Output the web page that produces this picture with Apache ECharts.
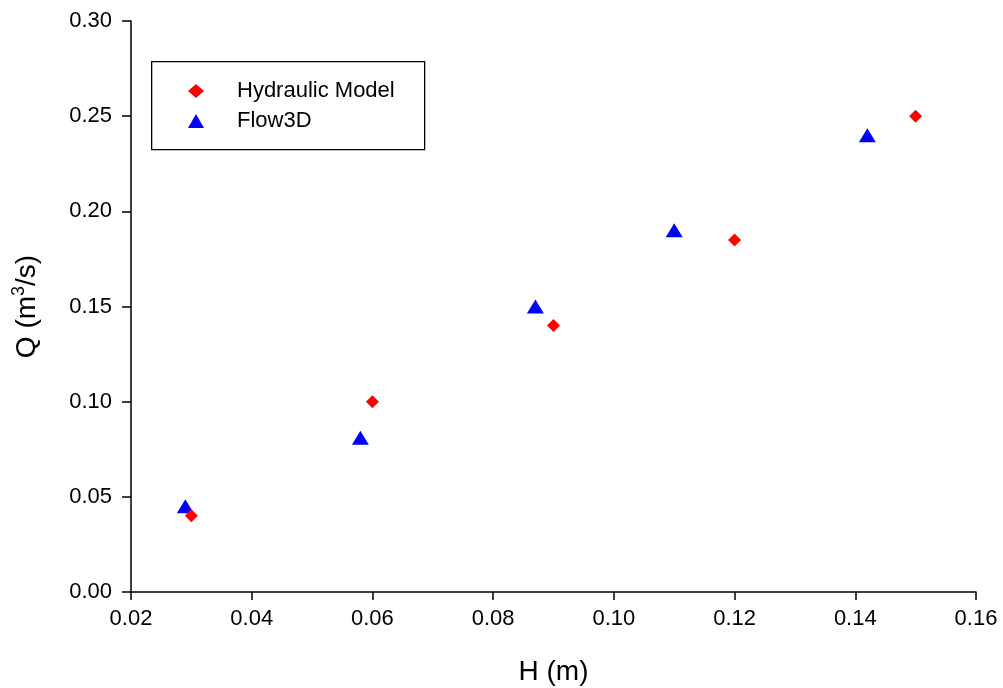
<!DOCTYPE html>
<html><head><meta charset="utf-8">
<script src="https://cdn.jsdelivr.net/npm/echarts@6/dist/echarts.min.js"></script>
<style>html,body{margin:0;padding:0;background:#fff}#c{width:1003px;height:688px}</style>
</head><body><div id="c"></div>
<script>
const hydraulicH = [0.03, 0.06, 0.09, 0.12, 0.15];
const hydraulicQ = [0.04, 0.10, 0.14, 0.185, 0.25];
const flow3dH = [0.029, 0.058, 0.087, 0.11, 0.142];
const flow3dQ = [0.045, 0.081, 0.15, 0.19, 0.24];
const seriesNames = ['Hydraulic Model', 'Flow3D'];

const font = '"Liberation Sans", Arial, sans-serif';
const chart = echarts.init(document.getElementById('c'), null, {renderer: 'canvas'});
chart.setOption({
  animation: false,
  backgroundColor: '#fff',
  grid: {left: 131, right: 27, top: 21, bottom: 96, containLabel: false, outerBoundsMode: 'none'},
  graphic: [{
    type: 'rect', left: 151, top: 61, z: 0,
    shape: {width: 273, height: 88},
    style: {fill: '#fff', stroke: '#000', lineWidth: 1.3}
  }],
  legend: {
    orient: 'vertical', left: 188, top: 80, itemGap: 8, padding: 0,
    itemWidth: 16, itemHeight: 14,
    textStyle: {fontFamily: font, fontSize: 22, color: '#000', padding: [0, 0, 0, 28]},
    data: [
      {name: seriesNames[0], icon: 'diamond', itemStyle: {color: '#ff0000'}},
      {name: seriesNames[1], icon: 'triangle', itemStyle: {color: '#0000ff'}}
    ],
    z: 5
  },
  xAxis: {
    type: 'value', min: 0.02, max: 0.16, interval: 0.02,
    name: 'H (m)', nameLocation: 'middle', nameGap: 66,
    nameTextStyle: {fontFamily: font, fontSize: 28, color: '#000'},
    axisLine: {lineStyle: {color: '#000', width: 1.5}},
    axisTick: {show: true, length: 8, lineStyle: {color: '#000', width: 1.5}},
    axisLabel: {fontFamily: font, fontSize: 22, color: '#000', margin: 16,
      formatter: v => v.toFixed(2)},
    splitLine: {show: false}
  },
  yAxis: {
    type: 'value', min: 0, max: 0.30, interval: 0.05,
    name: '{n|Q (m}{sup|3}{n|/s)}', nameLocation: 'middle', nameGap: 87, nameRotate: 90,
    nameTextStyle: {fontFamily: font, fontSize: 28, color: '#000',
      rich: {n: {fontFamily: font, fontSize: 28, color: '#000'},
             sup: {fontFamily: font, fontSize: 18, color: '#000', padding: [0, 0, 16, 0]}}},
    axisLine: {lineStyle: {color: '#000', width: 1.5}},
    axisTick: {show: true, length: 9, lineStyle: {color: '#000', width: 1.5}},
    axisLabel: {fontFamily: font, fontSize: 22, color: '#000', margin: 19,
      formatter: v => v.toFixed(2)},
    splitLine: {show: false}
  },
  series: [
    {name: seriesNames[0], type: 'scatter', symbol: 'diamond', symbolSize: [13, 13],
     itemStyle: {color: '#ff0000', opacity: 1},
     data: hydraulicH.map((h, i) => [h, hydraulicQ[i]]), z: 3},
    {name: seriesNames[1], type: 'scatter', symbol: 'triangle', symbolSize: [17, 14],
     itemStyle: {color: '#0000ff', opacity: 1},
     data: flow3dH.map((h, i) => [h, flow3dQ[i]]), z: 2}
  ]
});
</script></body></html>
